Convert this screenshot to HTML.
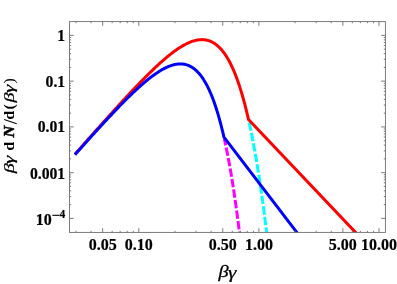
<!DOCTYPE html>
<html><head><meta charset="utf-8"><title>plot</title>
<style>
html,body{margin:0;padding:0;background:#fff;}
svg{display:block;}
text{font-family:"Liberation Serif",serif;}
</style></head><body>
<svg width="397" height="284" viewBox="0 0 397 284">
<rect x="0" y="0" width="397" height="284" fill="#fff"/>
<defs><clipPath id="c"><rect x="69.5" y="21.6" width="315.9" height="210.8"/></clipPath></defs>
<g clip-path="url(#c)" fill="none" stroke-width="3" stroke-linejoin="miter" stroke-linecap="butt">
<path d="M224.37 139.04 L224.57 139.98 L224.78 140.93 L224.99 141.89 L225.20 142.85 L225.41 143.83 L225.61 144.81 L225.82 145.80 L226.03 146.80 L226.24 147.81 L226.45 148.83 L226.66 149.85 L226.86 150.89 L227.07 151.93 L227.28 152.99 L227.49 154.05 L227.70 155.12 L227.91 156.20 L228.11 157.29 L228.32 158.39 L228.53 159.50 L228.74 160.62 L228.95 161.75 L229.15 162.89 L229.36 164.04 L229.57 165.19 L229.78 166.36 L229.99 167.54 L230.20 168.73 L230.40 169.92 L230.61 171.13 L230.82 172.35 L231.03 173.58 L231.24 174.81 L231.45 176.06 L231.65 177.32 L231.86 178.59 L232.07 179.87 L232.28 181.16 L232.49 182.46 L232.69 183.77 L232.90 185.09 L233.11 186.43 L233.32 187.77 L233.53 189.13 L233.74 190.49 L233.94 191.87 L234.15 193.26 L234.36 194.66 L234.57 196.07 L234.78 197.49 L234.98 198.92 L235.19 200.37 L235.40 201.82 L235.61 203.29 L235.82 204.77 L236.03 206.26 L236.23 207.76 L236.44 209.28 L236.65 210.81 L236.86 212.35 L237.07 213.90 L237.28 215.46 L237.48 217.04 L237.69 218.62 L237.90 220.22 L238.11 221.84 L238.32 223.46 L238.52 225.10 L238.73 226.75 L238.94 228.41 L239.15 230.09 L239.36 231.78 L239.57 233.48 L239.77 235.19 L239.98 236.92 L240.19 238.66" stroke="#ff00ff" stroke-dasharray="8.45 2.18" stroke-dashoffset="1.96"/>
<path d="M248.92 121.44 L249.12 122.38 L249.33 123.32 L249.54 124.28 L249.75 125.24 L249.96 126.21 L250.16 127.19 L250.37 128.18 L250.58 129.17 L250.79 130.17 L251.00 131.18 L251.21 132.20 L251.41 133.23 L251.62 134.26 L251.83 135.30 L252.04 136.35 L252.25 137.41 L252.46 138.47 L252.66 139.55 L252.87 140.63 L253.08 141.72 L253.29 142.82 L253.50 143.93 L253.70 145.04 L253.91 146.16 L254.12 147.30 L254.33 148.44 L254.54 149.59 L254.75 150.74 L254.95 151.91 L255.16 153.08 L255.37 154.27 L255.58 155.46 L255.79 156.66 L256.00 157.87 L256.20 159.09 L256.41 160.32 L256.62 161.55 L256.83 162.80 L257.04 164.05 L257.24 165.32 L257.45 166.59 L257.66 167.87 L257.87 169.16 L258.08 170.46 L258.29 171.77 L258.49 173.09 L258.70 174.42 L258.91 175.76 L259.12 177.10 L259.33 178.46 L259.53 179.83 L259.74 181.20 L259.95 182.59 L260.16 183.98 L260.37 185.39 L260.58 186.80 L260.78 188.23 L260.99 189.66 L261.20 191.11 L261.41 192.56 L261.62 194.02 L261.83 195.50 L262.03 196.98 L262.24 198.48 L262.45 199.98 L262.66 201.50 L262.87 203.02 L263.07 204.56 L263.28 206.10 L263.49 207.66 L263.70 209.22 L263.91 210.80 L264.12 212.39 L264.32 213.99 L264.53 215.60 L264.74 217.22 L264.95 218.85 L265.16 220.49 L265.36 222.14 L265.57 223.80 L265.78 225.48 L265.99 227.16 L266.20 228.86 L266.41 230.56 L266.61 232.28 L266.82 234.01 L267.03 235.75 L267.24 237.50 L267.45 239.27" stroke="#00ffff" stroke-dasharray="8.45 2.18" stroke-dashoffset="9.57"/>
<path d="M74.95 154.32 L75.82 153.34 L76.68 152.35 L77.55 151.37 L78.42 150.39 L79.29 149.41 L80.16 148.42 L81.02 147.44 L81.89 146.46 L82.76 145.48 L83.63 144.50 L84.49 143.52 L85.36 142.54 L86.23 141.56 L87.10 140.58 L87.96 139.60 L88.83 138.62 L89.70 137.65 L90.57 136.67 L91.44 135.69 L92.30 134.72 L93.17 133.74 L94.04 132.77 L94.91 131.79 L95.77 130.82 L96.64 129.84 L97.51 128.87 L98.38 127.90 L99.25 126.93 L100.11 125.96 L100.98 124.99 L101.85 124.02 L102.72 123.05 L103.58 122.08 L104.45 121.11 L105.32 120.15 L106.19 119.18 L107.06 118.22 L107.92 117.25 L108.79 116.29 L109.66 115.33 L110.53 114.37 L111.39 113.41 L112.26 112.45 L113.13 111.49 L114.00 110.53 L114.87 109.58 L115.73 108.63 L116.60 107.67 L117.47 106.72 L118.34 105.77 L119.20 104.82 L120.07 103.88 L120.94 102.93 L121.81 101.99 L122.68 101.04 L123.54 100.10 L124.41 99.16 L125.28 98.23 L126.15 97.29 L127.01 96.36 L127.88 95.43 L128.75 94.50 L129.62 93.57 L130.48 92.64 L131.35 91.72 L132.22 90.80 L133.09 89.88 L133.96 88.97 L134.82 88.05 L135.69 87.14 L136.56 86.23 L137.43 85.33 L138.29 84.43 L139.16 83.53 L140.03 82.63 L140.90 81.74 L141.77 80.85 L142.63 79.96 L143.50 79.08 L144.37 78.20 L145.24 77.32 L146.10 76.45 L146.97 75.59 L147.84 74.72 L148.71 73.86 L149.58 73.01 L150.44 72.16 L151.31 71.32 L152.18 70.48 L153.05 69.64 L153.91 68.81 L154.78 67.99 L155.65 67.17 L156.52 66.36 L157.39 65.55 L158.25 64.75 L159.12 63.95 L159.99 63.17 L160.86 62.39 L161.72 61.61 L162.59 60.85 L163.46 60.09 L164.33 59.34 L165.20 58.59 L166.06 57.86 L166.93 57.13 L167.80 56.42 L168.67 55.71 L169.53 55.01 L170.40 54.32 L171.27 53.64 L172.14 52.97 L173.01 52.31 L173.87 51.67 L174.74 51.03 L175.61 50.41 L176.48 49.80 L177.34 49.20 L178.21 48.61 L179.08 48.04 L179.95 47.48 L180.81 46.94 L181.68 46.41 L182.55 45.90 L183.42 45.40 L184.29 44.92 L185.15 44.45 L186.02 44.00 L186.89 43.57 L187.76 43.16 L188.62 42.77 L189.49 42.40 L190.36 42.04 L191.23 41.71 L192.10 41.40 L192.96 41.11 L193.83 40.85 L194.70 40.61 L195.57 40.39 L196.43 40.20 L197.30 40.03 L198.17 39.89 L199.04 39.78 L199.91 39.70 L200.77 39.64 L201.64 39.62 L202.51 39.63 L203.38 39.67 L204.24 39.74 L205.11 39.84 L205.98 39.99 L206.85 40.16 L207.72 40.38 L208.58 40.63 L209.45 40.92 L210.32 41.25 L211.19 41.63 L212.05 42.05 L212.92 42.51 L213.79 43.01 L214.66 43.57 L215.53 44.17 L216.39 44.82 L217.26 45.52 L218.13 46.28 L219.00 47.09 L219.86 47.95 L220.73 48.87 L221.60 49.85 L222.47 50.89 L223.34 51.99 L224.20 53.16 L225.07 54.39 L225.94 55.69 L226.81 57.05 L227.67 58.49 L228.54 60.00 L229.41 61.58 L230.28 63.24 L231.14 64.98 L232.01 66.80 L232.88 68.70 L233.75 70.69 L234.62 72.76 L235.48 74.92 L236.35 77.17 L237.22 79.52 L238.09 81.96 L238.95 84.50 L239.82 87.14 L240.69 89.88 L241.56 92.72 L242.43 95.68 L243.29 98.74 L244.16 101.92 L245.03 105.21 L245.90 108.62 L246.76 112.15 L247.63 115.80 L248.50 119.58 L361.27 238.40" stroke="#ff0000"/>
<path d="M74.95 154.70 L75.69 153.86 L76.44 153.03 L77.18 152.19 L77.93 151.36 L78.67 150.52 L79.42 149.69 L80.16 148.86 L80.91 148.02 L81.65 147.19 L82.40 146.36 L83.14 145.53 L83.89 144.70 L84.63 143.87 L85.38 143.04 L86.12 142.21 L86.87 141.39 L87.61 140.56 L88.36 139.73 L89.10 138.91 L89.85 138.08 L90.59 137.26 L91.34 136.44 L92.08 135.61 L92.83 134.79 L93.57 133.97 L94.32 133.15 L95.06 132.33 L95.81 131.52 L96.55 130.70 L97.30 129.88 L98.04 129.07 L98.79 128.25 L99.53 127.44 L100.28 126.63 L101.02 125.82 L101.77 125.01 L102.51 124.20 L103.26 123.40 L104.00 122.59 L104.75 121.79 L105.49 120.98 L106.24 120.18 L106.98 119.38 L107.73 118.59 L108.47 117.79 L109.22 116.99 L109.96 116.20 L110.71 115.41 L111.45 114.62 L112.20 113.83 L112.94 113.04 L113.69 112.26 L114.43 111.48 L115.18 110.69 L115.92 109.92 L116.67 109.14 L117.41 108.36 L118.16 107.59 L118.90 106.82 L119.65 106.05 L120.39 105.29 L121.14 104.53 L121.88 103.77 L122.63 103.01 L123.37 102.25 L124.12 101.50 L124.86 100.75 L125.61 100.01 L126.35 99.26 L127.10 98.52 L127.84 97.79 L128.59 97.05 L129.33 96.32 L130.08 95.60 L130.82 94.88 L131.57 94.16 L132.31 93.44 L133.06 92.73 L133.80 92.02 L134.55 91.32 L135.29 90.62 L136.04 89.92 L136.78 89.23 L137.53 88.55 L138.27 87.87 L139.02 87.19 L139.76 86.52 L140.51 85.86 L141.25 85.20 L142.00 84.54 L142.74 83.89 L143.49 83.25 L144.23 82.61 L144.98 81.98 L145.72 81.36 L146.47 80.74 L147.21 80.13 L147.96 79.52 L148.70 78.93 L149.45 78.34 L150.19 77.75 L150.94 77.18 L151.68 76.61 L152.43 76.05 L153.17 75.50 L153.92 74.96 L154.66 74.43 L155.41 73.91 L156.15 73.39 L156.90 72.89 L157.64 72.39 L158.39 71.91 L159.13 71.44 L159.88 70.97 L160.62 70.52 L161.37 70.08 L162.11 69.65 L162.86 69.24 L163.60 68.83 L164.35 68.44 L165.09 68.06 L165.84 67.70 L166.58 67.35 L167.33 67.01 L168.07 66.69 L168.82 66.39 L169.56 66.10 L170.31 65.82 L171.05 65.56 L171.80 65.32 L172.54 65.10 L173.29 64.89 L174.03 64.70 L174.78 64.53 L175.52 64.38 L176.27 64.25 L177.01 64.15 L177.76 64.06 L178.50 63.99 L179.25 63.95 L179.99 63.93 L180.74 63.93 L181.48 63.95 L182.23 64.00 L182.97 64.08 L183.72 64.18 L184.46 64.31 L185.21 64.47 L185.95 64.66 L186.70 64.87 L187.44 65.12 L188.19 65.39 L188.93 65.70 L189.68 66.04 L190.42 66.41 L191.17 66.82 L191.91 67.26 L192.66 67.74 L193.40 68.26 L194.15 68.81 L194.89 69.40 L195.64 70.04 L196.38 70.71 L197.13 71.43 L197.87 72.19 L198.62 72.99 L199.36 73.84 L200.11 74.74 L200.85 75.69 L201.60 76.68 L202.34 77.73 L203.09 78.83 L203.83 79.98 L204.58 81.19 L205.32 82.45 L206.07 83.77 L206.81 85.15 L207.56 86.59 L208.30 88.10 L209.05 89.66 L209.79 91.30 L210.54 93.00 L211.28 94.76 L212.03 96.60 L212.77 98.52 L213.52 100.50 L214.26 102.56 L215.01 104.70 L215.75 106.92 L216.50 109.22 L217.24 111.61 L217.99 114.08 L218.73 116.64 L219.48 119.29 L220.22 122.03 L220.97 124.86 L221.71 127.79 L222.46 130.82 L223.20 133.96 L223.95 137.19 L301.41 238.40" stroke="#0000ff"/>
</g>
<g fill="none" stroke="#6e6e6e" stroke-width="0.9">
<rect x="69.5" y="21.6" width="315.9" height="210.8"/>
<path d="M102.65 232.40 L102.65 228.20 M102.65 21.60 L102.65 25.80 M138.80 232.40 L138.80 228.20 M138.80 21.60 L138.80 25.80 M222.75 232.40 L222.75 228.20 M222.75 21.60 L222.75 25.80 M258.90 232.40 L258.90 228.20 M258.90 21.60 L258.90 25.80 M342.85 232.40 L342.85 228.20 M342.85 21.60 L342.85 25.80 M379.00 232.40 L379.00 228.20 M379.00 21.60 L379.00 25.80 M76.00 232.40 L76.00 230.80 M76.00 21.60 L76.00 23.20 M91.01 232.40 L91.01 230.80 M91.01 21.60 L91.01 23.20 M112.16 232.40 L112.16 230.80 M112.16 21.60 L112.16 23.20 M120.20 232.40 L120.20 230.80 M120.20 21.60 L120.20 23.20 M127.16 232.40 L127.16 230.80 M127.16 21.60 L127.16 23.20 M133.30 232.40 L133.30 230.80 M133.30 21.60 L133.30 23.20 M174.95 232.40 L174.95 230.80 M174.95 21.60 L174.95 23.20 M196.10 232.40 L196.10 230.80 M196.10 21.60 L196.10 23.20 M211.11 232.40 L211.11 230.80 M211.11 21.60 L211.11 23.20 M232.26 232.40 L232.26 230.80 M232.26 21.60 L232.26 23.20 M240.30 232.40 L240.30 230.80 M240.30 21.60 L240.30 23.20 M247.26 232.40 L247.26 230.80 M247.26 21.60 L247.26 23.20 M253.40 232.40 L253.40 230.80 M253.40 21.60 L253.40 23.20 M295.05 232.40 L295.05 230.80 M295.05 21.60 L295.05 23.20 M316.20 232.40 L316.20 230.80 M316.20 21.60 L316.20 23.20 M331.21 232.40 L331.21 230.80 M331.21 21.60 L331.21 23.20 M352.36 232.40 L352.36 230.80 M352.36 21.60 L352.36 23.20 M360.40 232.40 L360.40 230.80 M360.40 21.60 L360.40 23.20 M367.36 232.40 L367.36 230.80 M367.36 21.60 L367.36 23.20 M373.50 232.40 L373.50 230.80 M373.50 21.60 L373.50 23.20 M69.50 35.40 L73.70 35.40 M385.40 35.40 L381.20 35.40 M69.50 81.15 L73.70 81.15 M385.40 81.15 L381.20 81.15 M69.50 126.90 L73.70 126.90 M385.40 126.90 L381.20 126.90 M69.50 172.65 L73.70 172.65 M385.40 172.65 L381.20 172.65 M69.50 218.40 L73.70 218.40 M385.40 218.40 L381.20 218.40 M69.50 204.63 L71.10 204.63 M385.40 204.63 L383.80 204.63 M69.50 196.57 L71.10 196.57 M385.40 196.57 L383.80 196.57 M69.50 190.86 L71.10 190.86 M385.40 190.86 L383.80 190.86 M69.50 186.42 L71.10 186.42 M385.40 186.42 L383.80 186.42 M69.50 182.80 L71.10 182.80 M385.40 182.80 L383.80 182.80 M69.50 179.74 L71.10 179.74 M385.40 179.74 L383.80 179.74 M69.50 177.08 L71.10 177.08 M385.40 177.08 L383.80 177.08 M69.50 174.74 L71.10 174.74 M385.40 174.74 L383.80 174.74 M69.50 158.88 L71.10 158.88 M385.40 158.88 L383.80 158.88 M69.50 150.82 L71.10 150.82 M385.40 150.82 L383.80 150.82 M69.50 145.11 L71.10 145.11 M385.40 145.11 L383.80 145.11 M69.50 140.67 L71.10 140.67 M385.40 140.67 L383.80 140.67 M69.50 137.05 L71.10 137.05 M385.40 137.05 L383.80 137.05 M69.50 133.99 L71.10 133.99 M385.40 133.99 L383.80 133.99 M69.50 131.33 L71.10 131.33 M385.40 131.33 L383.80 131.33 M69.50 128.99 L71.10 128.99 M385.40 128.99 L383.80 128.99 M69.50 113.13 L71.10 113.13 M385.40 113.13 L383.80 113.13 M69.50 105.07 L71.10 105.07 M385.40 105.07 L383.80 105.07 M69.50 99.36 L71.10 99.36 M385.40 99.36 L383.80 99.36 M69.50 94.92 L71.10 94.92 M385.40 94.92 L383.80 94.92 M69.50 91.30 L71.10 91.30 M385.40 91.30 L383.80 91.30 M69.50 88.24 L71.10 88.24 M385.40 88.24 L383.80 88.24 M69.50 85.58 L71.10 85.58 M385.40 85.58 L383.80 85.58 M69.50 83.24 L71.10 83.24 M385.40 83.24 L383.80 83.24 M69.50 67.38 L71.10 67.38 M385.40 67.38 L383.80 67.38 M69.50 59.32 L71.10 59.32 M385.40 59.32 L383.80 59.32 M69.50 53.61 L71.10 53.61 M385.40 53.61 L383.80 53.61 M69.50 49.17 L71.10 49.17 M385.40 49.17 L383.80 49.17 M69.50 45.55 L71.10 45.55 M385.40 45.55 L383.80 45.55 M69.50 42.49 L71.10 42.49 M385.40 42.49 L383.80 42.49 M69.50 39.83 L71.10 39.83 M385.40 39.83 L383.80 39.83 M69.50 37.49 L71.10 37.49 M385.40 37.49 L383.80 37.49"/>
</g>
<g style="filter:grayscale(1)">
<g font-size="16" font-weight="bold" fill="#000" stroke="#000" stroke-width="0.2">
<text x="102.65" y="249.95" text-anchor="middle">0.05</text><text x="138.80" y="249.95" text-anchor="middle">0.10</text><text x="222.75" y="249.95" text-anchor="middle">0.50</text><text x="258.90" y="249.95" text-anchor="middle">1.00</text><text x="342.85" y="249.95" text-anchor="middle">5.00</text><text x="379.00" y="249.95" text-anchor="middle">10.00</text>
<text x="65.2" y="41.15" text-anchor="end" font-size="15.7">1</text><text x="65.2" y="86.65" text-anchor="end" font-size="15.7">0.1</text><text x="65.2" y="132.15" text-anchor="end" font-size="15.7">0.01</text><text x="65.2" y="178.75" text-anchor="end" font-size="15.7">0.001</text><text x="51.8" y="225.00" text-anchor="end">10</text><rect x="52.4" y="214.75" width="7.0" height="1.1" stroke="none"/><text x="65.3" y="218.30" text-anchor="end" font-size="11.5">4</text>
</g>
<g font-size="16" font-style="italic" font-weight="normal" stroke="#000" stroke-width="0.25"><text transform="translate(218.53,277.30) scale(1.270,1.070)">β</text><text transform="translate(228.02,277.50) scale(1.330,1.000)">γ</text></g>
<g transform="translate(14.4,174) rotate(-90) scale(1,0.93)" font-size="16" font-weight="bold">
<g font-size="16" font-style="italic" font-weight="normal" stroke="#000" stroke-width="0.25"><text transform="translate(0.63,-0.30) scale(1.270,0.960)">β</text><text transform="translate(10.12,-0.10) scale(1.330,1.000)">γ</text></g>
<text x="23.2" y="0">d</text>
<text transform="translate(36.4,0) scale(1.03,1)" font-style="italic" stroke="#000" stroke-width="0.5">N</text>
<path d="M50.3 2.5 L54.5 -11" stroke="#000" stroke-width="1.15" fill="none"/>
<text x="54.3" y="0">d</text>
<text x="64.5" y="0">(</text>
<g font-size="16" font-style="italic" font-weight="normal" stroke="#000" stroke-width="0.25"><text transform="translate(71.53,-0.30) scale(1.270,0.960)">β</text><text transform="translate(81.02,-0.10) scale(1.330,1.000)">γ</text></g>
<text x="90.6" y="0" font-weight="normal">)</text>
</g>
</g>
</svg>
</body></html>
